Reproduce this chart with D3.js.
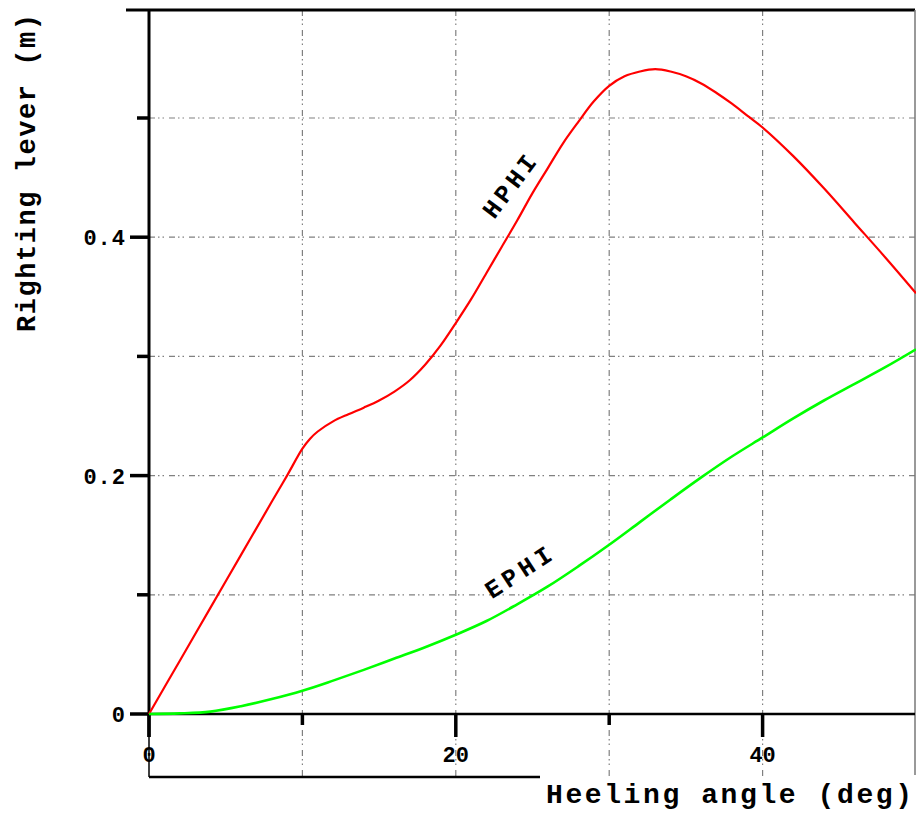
<!DOCTYPE html>
<html>
<head>
<meta charset="utf-8">
<script src="https://cdn.jsdelivr.net/npm/d3@7"></script>
<style>
  html, body { margin: 0; padding: 0; background: #fff; }
  svg { display: block; }
  text { font-family: "Liberation Mono", "DejaVu Sans Mono", monospace; font-weight: bold; fill: #000; }
</style>
</head>
<body>
<svg id="chart" width="916" height="815"></svg>
<script>
// ---- data ----
const angles = [0, 2, 4, 6, 8, 9, 10, 10.5, 11, 12, 13, 14, 15, 16, 17, 18, 19, 20, 21, 22, 23, 24, 25, 26, 27, 28, 29, 30, 31, 32, 33, 34, 35, 36, 37, 38, 39, 40, 42, 44, 46, 48, 50];
const hphi = [0, 0.0445, 0.089, 0.1335, 0.178, 0.200, 0.2226, 0.231, 0.237, 0.2455, 0.2515, 0.257, 0.263, 0.2705, 0.280, 0.293, 0.309, 0.328, 0.348, 0.370, 0.392, 0.414, 0.437, 0.458, 0.479, 0.497, 0.514, 0.527, 0.535, 0.539, 0.541, 0.539, 0.535, 0.529, 0.521, 0.512, 0.502, 0.492, 0.468, 0.441, 0.412, 0.383, 0.353];
const ephiAngles = [0, 2, 4, 6, 8, 10, 12, 14, 16, 18, 20, 22, 24, 26, 28, 30, 32, 34, 36, 38, 40, 42, 44, 46, 48, 50];
const ephi = [0, 0.0005, 0.002, 0.0065, 0.0125, 0.0195, 0.028, 0.037, 0.0465, 0.056, 0.0665, 0.078, 0.092, 0.107, 0.124, 0.142, 0.161, 0.180, 0.1985, 0.216, 0.232, 0.248, 0.263, 0.277, 0.291, 0.306];
const xMajorTicks = [0, 20, 40];
const xMinorTicks = [10, 30];
const yMajorTicks = [0, 0.2, 0.4];
const yMinorTicks = [0.1, 0.3, 0.5];
const xGrid = [10, 20, 30, 40];
const yGrid = [0.1, 0.2, 0.3, 0.4, 0.5];
const xTitle = "Heeling angle (deg)";
const yTitle = "Righting lever (m)";
const seriesLabels = ["HPHI", "EPHI"];

// ---- layout ----
const svg = d3.select("#chart");
const x = d3.scaleLinear().domain([0, 50]).range([149, 916]);
const y = d3.scaleLinear().domain([0, 0.5]).range([714, 118]);
const frameTop = 10, frameBottom = 777, frameRight = 915;

const gridDash = "6,3,1.5,3,1.5,5";
svg.append("g").selectAll("line").data(yGrid).join("line")
  .attr("x1", x(0)).attr("x2", frameRight)
  .attr("y1", d => y(d)).attr("y2", d => y(d))
  .attr("stroke", "#808080").attr("stroke-width", 1.2).attr("stroke-dasharray", gridDash);
svg.append("g").selectAll("line").data(xGrid).join("line")
  .attr("x1", d => x(d)).attr("x2", d => x(d))
  .attr("y1", frameTop).attr("y2", frameBottom)
  .attr("stroke", "#808080").attr("stroke-width", 1.2).attr("stroke-dasharray", gridDash);

// frame
svg.append("line").attr("x1", 126).attr("x2", frameRight).attr("y1", frameTop).attr("y2", frameTop)
  .attr("stroke", "#000").attr("stroke-width", 3);
svg.append("line").attr("x1", frameRight).attr("x2", frameRight).attr("y1", frameTop).attr("y2", frameBottom - 2)
  .attr("stroke", "#777").attr("stroke-width", 1.5);
svg.append("line").attr("x1", x(0)).attr("x2", 540).attr("y1", frameBottom).attr("y2", frameBottom)
  .attr("stroke", "#000").attr("stroke-width", 2.5);
svg.append("line").attr("x1", x(0)).attr("x2", x(0)).attr("y1", y(0) + 23).attr("y2", frameBottom)
  .attr("stroke", "#000").attr("stroke-width", 1.5);

// axes lines
svg.append("line").attr("x1", x(0)).attr("x2", x(0)).attr("y1", frameTop).attr("y2", y(0) + 23)
  .attr("stroke", "#000").attr("stroke-width", 3);
svg.append("line").attr("x1", x(0)).attr("x2", frameRight).attr("y1", y(0)).attr("y2", y(0))
  .attr("stroke", "#000").attr("stroke-width", 2.5);

// ticks
svg.append("g").selectAll("line").data(yMajorTicks).join("line")
  .attr("x1", 130).attr("x2", x(0)).attr("y1", d => y(d)).attr("y2", d => y(d))
  .attr("stroke", "#000").attr("stroke-width", 3.5);
svg.append("g").selectAll("line").data(yMinorTicks).join("line")
  .attr("x1", 137).attr("x2", x(0)).attr("y1", d => y(d)).attr("y2", d => y(d))
  .attr("stroke", "#000").attr("stroke-width", 3.5);
svg.append("g").selectAll("line").data(xMajorTicks).join("line")
  .attr("x1", d => x(d)).attr("x2", d => x(d)).attr("y1", y(0)).attr("y2", y(0) + 23)
  .attr("stroke", "#000").attr("stroke-width", 3.5);
svg.append("g").selectAll("line").data(xMinorTicks).join("line")
  .attr("x1", d => x(d)).attr("x2", d => x(d)).attr("y1", y(0)).attr("y2", y(0) + 11)
  .attr("stroke", "#000").attr("stroke-width", 3.5);

// tick labels
svg.append("g").selectAll("text").data(yMajorTicks).join("text")
  .attr("x", 126).attr("y", d => y(d)).attr("dy", "0.36em")
  .attr("text-anchor", "end").attr("font-size", 22).attr("letter-spacing", 1)
  .text(d => d === 0 ? "0" : d3.format(".1f")(d));
svg.append("g").selectAll("text").data(xMajorTicks).join("text")
  .attr("x", d => x(d)).attr("y", 762)
  .attr("text-anchor", "middle").attr("font-size", 22)
  .text(d => d);

// curves
const line = d3.line().x(d => x(d[0])).y(d => y(d[1])).curve(d3.curveCatmullRom.alpha(0.5));
svg.append("path").datum(angles.map((a, i) => [a, hphi[i]]))
  .attr("d", line).attr("fill", "none").attr("stroke", "#ff0000").attr("stroke-width", 2.2);
svg.append("path").datum(ephiAngles.map((a, i) => [a, ephi[i]]))
  .attr("d", line).attr("fill", "none").attr("stroke", "#00ff00").attr("stroke-width", 2.6);

// series labels
svg.append("text").attr("transform", "translate(509,186) rotate(-53)")
  .attr("text-anchor", "middle").attr("dy", "0.35em").attr("font-size", 25)
  .attr("textLength", 72).attr("lengthAdjust", "spacing").text(seriesLabels[0]);
svg.append("text").attr("transform", "translate(518,572) rotate(-33)")
  .attr("text-anchor", "middle").attr("dy", "0.35em").attr("font-size", 25)
  .attr("textLength", 74).attr("lengthAdjust", "spacing").text(seriesLabels[1]);

// axis titles
svg.append("text").attr("x", 546).attr("y", 803).attr("font-size", 28)
  .attr("textLength", 366).attr("lengthAdjust", "spacing").text(xTitle);
svg.append("text").attr("transform", "translate(35,173) rotate(-90)")
  .attr("text-anchor", "middle").attr("font-size", 27)
  .attr("textLength", 318).attr("lengthAdjust", "spacing").text(yTitle);
</script>
</body>
</html>
